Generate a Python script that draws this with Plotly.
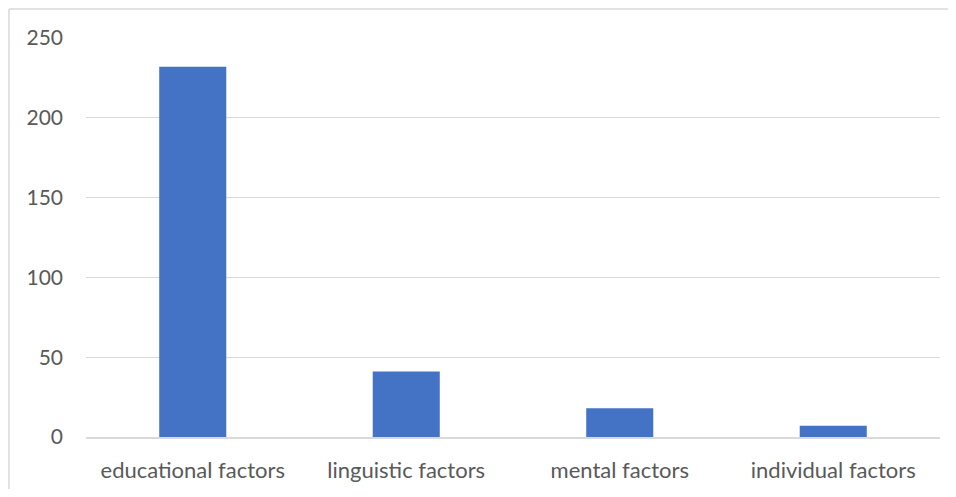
import plotly.graph_objects as go

categories = ["educational factors", "linguistic factors", "mental factors", "individual factors"]
values = [232, 41, 18, 7]
y_ticks = [0, 50, 100, 150, 200, 250]

fig = go.Figure()
fig.add_trace(go.Bar(x=categories, y=values, marker=dict(color="#4472C4", line=dict(width=0))))

fig.update_layout(
    width=940, height=481,
    margin=dict(l=78, r=8, t=30, b=52),
    paper_bgcolor="white", plot_bgcolor="white",
    bargap=0.686,
    showlegend=False,
    font=dict(family="Lato, Open Sans, sans-serif", size=21, color="#595959"),
)
fig.update_yaxes(range=[0, 250], tickvals=y_ticks, showgrid=True, gridcolor="#d9d9d9", gridwidth=1.3,
                 zeroline=False, showline=False, ticks="", ticklabelstandoff=22, automargin=False)
fig.update_xaxes(showline=True, linecolor="#d9d9d9", linewidth=1.5, ticks="", ticklabelstandoff=13,
                 tickfont=dict(size=22), automargin=False)

fig.add_shape(type="line", xref="paper", yref="paper", x0=-0.0902, x1=-0.0902, y0=-0.16, y1=1.0727,
              line=dict(color="#d9d9d9", width=1.5))
fig.add_shape(type="line", xref="paper", yref="paper", x0=-0.0902, x1=1.03, y0=1.0727, y1=1.0727,
              line=dict(color="#d9d9d9", width=1.5))

fig.write_html("out.html")
